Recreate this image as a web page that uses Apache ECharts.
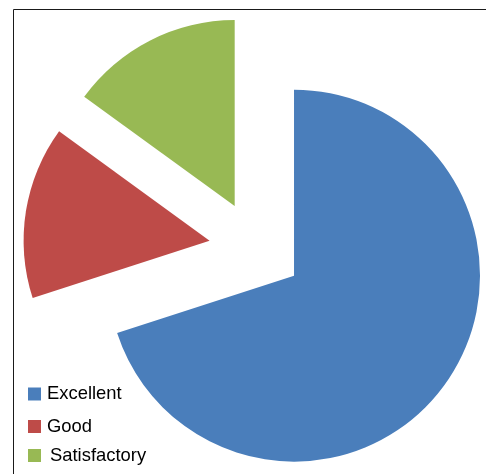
<!DOCTYPE html>
<html>
<head>
<meta charset="utf-8">
<script src="https://cdn.jsdelivr.net/npm/echarts@6/dist/echarts.min.js"></script>
<style>
html,body{margin:0;padding:0;background:#fff;}
#main{width:486px;height:474px;}
</style>
</head>
<body>
<div id="main"></div>
<script>
var categories = ['Excellent', 'Good', 'Satisfactory'];
var values = [70, 15, 15];
var colors = ['#4A7EBB', '#BE4B48', '#98B954'];

var chart = echarts.init(document.getElementById('main'), null, {renderer: 'canvas'});

var pieData = categories.map(function (c, i) {
  return { name: c, value: values[i], selected: true, itemStyle: { color: colors[i] } };
});

var legendTops = [385, 417.5, 446.5];
var legends = categories.map(function (c, i) {
  return {
    data: [c],
    orient: 'vertical',
    left: 28,
    top: legendTops[i],
    padding: 0,
    icon: 'rect',
    itemWidth: 13,
    itemHeight: 13,
    itemGap: 6,
    selectedMode: false,
    textStyle: { fontFamily: 'Liberation Sans, Arial, sans-serif', fontSize: 18.4, color: '#000', lineHeight: 18, padding: [0, 0, 0, i === 2 ? 4 : 1] }
  };
});

chart.setOption({
  animation: false,
  legend: legends,
  graphic: [{
    type: 'polyline',
    shape: { points: [[13.5, 474], [13.5, 9.5], [486, 9.5]] },
    style: { stroke: '#1a1a1a', lineWidth: 1, fill: null },
    silent: true
  }],
  series: [{
    type: 'pie',
    center: [256, 248],
    radius: [0, 186],
    startAngle: 90,
    clockwise: true,
    selectedMode: 'multiple',
    selectedOffset: 47,
    label: { show: false },
    labelLine: { show: false },
    emphasis: { disabled: true, scale: false },
    itemStyle: { borderWidth: 0 },
    data: pieData
  }]
});
</script>
</body>
</html>
